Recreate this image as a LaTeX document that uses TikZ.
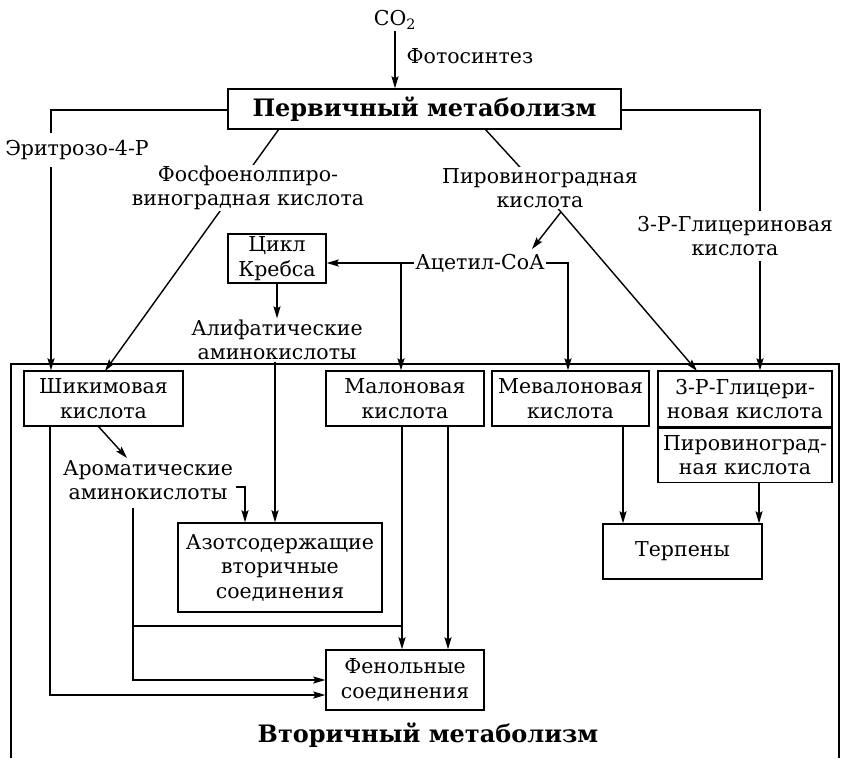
\documentclass[tikz,border=0pt]{standalone}
\usepackage{fontspec}
\setmainfont{DejaVu Serif}
\usetikzlibrary{arrows.meta,backgrounds,calc}
\tikzset{
  bx/.style={draw, line width=1.4pt, fill=white, align=center, inner sep=0pt,
    font=\fontsize{20.5}{24.5}\selectfont},
  lbl/.style={fill=white, align=center, inner sep=1.5pt,
    font=\fontsize{20.5}{24}\selectfont},
  ttl/.style={align=center, inner sep=0pt, font=\fontsize{24}{28}\selectfont\bfseries},
  ln/.style={line width=1.4pt},
  arr/.style={line width=1.4pt, -{Stealth[length=12pt,width=7pt,inset=2pt]}},
}
\begin{document}
\begin{tikzpicture}[x=1pt,y=-1pt]
\useasboundingbox (0,0) rectangle (842,758);
% top
\node[lbl] (co2) at (395,20) {CO\textsubscript{2}};
\node[lbl, anchor=west] (foto) at (405,56) {Фотосинтез};
\node[bx, ttl, minimum width=393pt, minimum height=40pt] (prim) at (424.5,109) {Первичный метаболизм};
% labels
\node[lbl, inner sep=7pt] (erit) at (77,150) {Эритрозо-4-Р};
\node[lbl] (fosf) at (248,188) {Фосфоенолпиро-\\виноградная кислота};
\node[lbl] (pyr) at (540,188) {Пировиноградная\\кислота};
\node[lbl, inner sep=5pt] (glyl) at (735,236) {3-Р-Глицериновая\\кислота};
\node[bx, minimum width=98pt, minimum height=49pt] (cycle) at (277,258.5) {Цикл\\Кребса};
\node[lbl] (acet) at (480,263) {Ацетил-СоА};
\node[lbl] (aliph) at (277,340) {Алифатические\\аминокислоты};
% secondary boxes
\node[bx, minimum width=159pt, minimum height=55pt] (shik) at (103.5,398.5) {Шикимовая\\кислота};
\node[bx, minimum width=158pt, minimum height=55pt] (malon) at (405,398.5) {Малоновая\\кислота};
\node[bx, minimum width=157pt, minimum height=55pt] (mev) at (570.5,398.5) {Мевалоновая\\кислота};
\node[bx, minimum width=174pt, minimum height=56pt] (glyc) at (745,399) {3-Р-Глицери-\\новая кислота};
\node[bx, minimum width=174pt, minimum height=54pt, anchor=north] (pyrb) at (glyc.south) {Пировиноград-\\ная кислота};
\node[lbl] (arom) at (148,480) {Ароматические\\аминокислоты};
\node[bx, minimum width=204pt, minimum height=89pt] (azot) at (280,567.5) {Азотсодержащие\\вторичные\\соединения};
\node[bx, minimum width=159pt, minimum height=55pt] (terp) at (682.5,551.5) {Терпены};
\node[bx, minimum width=158pt, minimum height=60pt] (fenol) at (405,680) {Фенольные\\соединения};
\node[ttl] (sec) at (428,735) {Вторичный метаболизм};
% coordinates
\coordinate (eX) at (51,0);
\coordinate (gX) at (760,0);
\coordinate (f1) at (279,129);
\coordinate (f2) at (105,371);
\coordinate (p1) at (485,129);
\coordinate (apex) at (561,212);
\coordinate (acTip) at (532,249);
\coordinate (glTip) at (697,371);
\coordinate (malX) at (401,263);
\coordinate (sh1) at (98,426);
\coordinate (arTip) at (127,458);
\coordinate (hook) at (236,487);
\coordinate (ar1) at (133,508);
\coordinate (arJ) at (133,626);
\coordinate (mlJ) at (402,626);
\coordinate (sh2) at (50,426);
\begin{scope}[on background layer]
\fill[white] (0,0) rectangle (842,758);
\draw[ln] (11,758) -- (11,364) -- (839,364) -- (839,758);
\draw[arr] (co2.south) -- (co2.south |- prim.north);
\draw[arr] ([yshift=-1pt]prim.west) -| (shik.north -| eX);
\draw[arr] ([yshift=-1pt]prim.east) -| (glyc.north -| gX);
\draw[arr] (f1) -- (f2);
\draw[ln] (p1) -- (apex);
\draw[arr] (apex) -- (acTip);
\draw[arr] (apex) -- (glTip);
\draw[arr] (acet.west) -- (acet.west -| cycle.east);
\draw[arr] (malX) -- (malon.north -| malX);
\draw[arr] (acet.east) -| (mev.north -| 568,0);
\draw[arr] (cycle.south -| aliph) -- (aliph.north);
\draw[arr] (aliph.south -| 275,0) -- (azot.north -| 275,0);
\draw[arr] (sh1) -- (arTip);
\draw[arr] (hook) -| (azot.north -| 245,0);
\draw[arr] (ar1) |- (fenol.west |- 0,680);
\draw[ln] (arJ) -- (mlJ);
\draw[arr] (sh2) |- (fenol.west |- 0,695);
\draw[arr] (malon.south -| 402,0) -- (fenol.north -| 402,0);
\draw[arr] (malon.south -| 448,0) -- (fenol.north -| 448,0);
\draw[arr] (mev.south -| 623,0) -- (terp.north -| 623,0);
\draw[arr] (pyrb.south -| 759,0) -- (terp.north -| 759,0);
\end{scope}
\end{tikzpicture}
\end{document}
